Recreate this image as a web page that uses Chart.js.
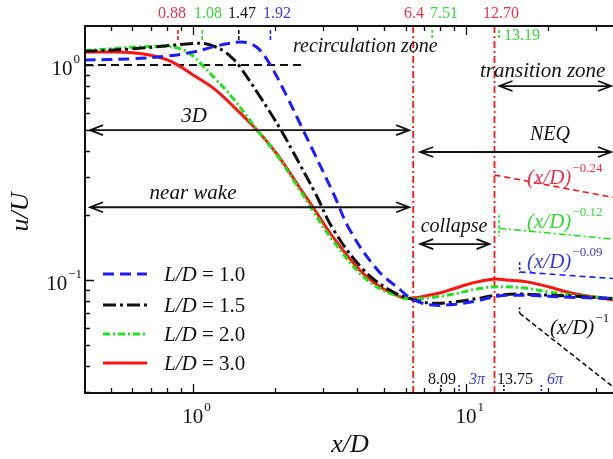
<!DOCTYPE html>
<html>
<head>
<meta charset="utf-8">
<script src="https://cdn.jsdelivr.net/npm/chart.js@4.4.1/dist/chart.umd.min.js"></script>
<style>
  html, body { margin: 0; padding: 0; background: #fff; }
  #wake { display: block; }
</style>
</head>
<body>
<canvas id="wake" width="613" height="459"></canvas>
<script>
// centreline velocity decay u/U against x/D for four aspect ratios

// L/D = 1.0
const x10 = [0.40, 0.6, 0.8, 1.0, 1.2, 1.35, 1.5, 1.62, 1.75, 1.92, 2.2, 2.53, 2.75, 3.26, 3.76, 4.72, 5.74, 6.4, 7.5, 9, 11, 13, 16, 20, 25, 34.5];
const u10 = [1.055, 1.07, 1.10, 1.15, 1.22, 1.26, 1.28, 1.26, 1.18, 1.00, 0.72, 0.498, 0.40, 0.254, 0.17, 0.112, 0.090, 0.081, 0.0765, 0.077, 0.080, 0.084, 0.085, 0.084, 0.083, 0.082];
// L/D = 1.5
const x15 = [0.40, 0.6, 0.8, 1.0, 1.1, 1.2, 1.3, 1.4, 1.47, 1.75, 2.10, 2.31, 2.80, 3.28, 4.20, 5.23, 6.4, 7.5, 9, 11, 13, 16, 20, 25, 34.5];
const u15 = [1.16, 1.19, 1.23, 1.26, 1.26, 1.22, 1.16, 1.07, 1.00, 0.72, 0.498, 0.40, 0.254, 0.17, 0.112, 0.090, 0.081, 0.078, 0.079, 0.082, 0.085, 0.086, 0.085, 0.084, 0.082];
// L/D = 2.0
const x20 = [0.40, 0.5, 0.6, 0.7, 0.8, 0.9, 1.0, 1.08, 1.2, 1.4, 1.715, 2.03, 2.46, 2.75, 3.26, 4.34, 5.74, 6.4, 7.5, 9, 11, 13, 16, 20, 25, 34.5];
const u20 = [1.17, 1.19, 1.21, 1.22, 1.22, 1.19, 1.10, 1.00, 0.87, 0.70, 0.50, 0.38, 0.262, 0.21, 0.152, 0.100, 0.083, 0.082, 0.083, 0.086, 0.091, 0.093, 0.092, 0.088, 0.085, 0.082];
// L/D = 3.0
const x30 = [0.40, 0.5, 0.6, 0.7, 0.8, 0.88, 1.0, 1.18, 1.4, 1.715, 2.03, 2.46, 2.75, 3.26, 4.34, 5.74, 6.4, 7, 8, 9, 10, 11, 12.7, 14, 16.7, 20, 23.4, 28, 34.5];
const u30 = [1.15, 1.15, 1.14, 1.11, 1.06, 1.00, 0.90, 0.785, 0.645, 0.498, 0.385, 0.268, 0.218, 0.158, 0.103, 0.0834, 0.0825, 0.084, 0.087, 0.091, 0.095, 0.098, 0.101, 0.100, 0.098, 0.093, 0.088, 0.084, 0.081];

const ratioLabels = ['1.0', '1.5', '2.0', '3.0'];

// recirculation lengths (top) and zone limits
const recircX = [0.88, 1.08, 1.47, 1.92];
const zoneX = [6.4, 12.70];
const peakX = [7.51, 13.19];
const bottomX = [8.09, 3 * Math.PI, 13.75, 6 * Math.PI];
const bottomText = ['8.09', '3\u03c0', '13.75', '6\u03c0'];

// power-law fits: start x, start u/U, exponent
const lawX0 = [12.7, 13.19, 15.7, 15.7];
const lawU0 = [0.308, 0.174, 0.109, 0.070];
const lawExp = [-0.24, -0.12, -0.09, -1];
const lawText = ['\u22120.24', '\u22120.12', '\u22120.09', '\u22121'];

const X_MIN = 0.402, X_MAX = 34.5;
const Y_MIN = 0.0298, Y_MAX = 1.52;

const BLUE = '#1c1cff', BLACK = '#111111', GREEN = '#1ee41e', RED = '#ff1414';
const RED_TXT = '#f0304a', GREEN_TXT = '#35d835', BLUE_TXT = '#3c3cd8';
const SERIF = '"Liberation Serif", "DejaVu Serif", serif';

const pts = (xs, ys) => xs.map((v, i) => ({ x: v, y: ys[i] }));

const curve = (label, xs, ys, color, dash) => ({
    label: label,
    data: pts(xs, ys),
    borderColor: color,
    borderWidth: 3,
    borderDash: dash,
    pointRadius: 0,
    tension: 0.4,
    fill: false
});

const guide = (data, color, dash, width) => ({
    label: '',
    data: data,
    borderColor: color,
    borderWidth: width,
    borderDash: dash,
    pointRadius: 0,
    fill: false
});

const lawColors = [RED, GREEN, BLUE, BLACK];
const lawDash = [[6, 4], [7, 3, 2, 3], [6, 4], [5, 3]];

const datasets = [
    curve('1.0', x10, u10, BLUE, [11, 6]),
    curve('1.5', x15, u15, BLACK, [13, 4, 3, 4]),
    curve('2.0', x20, u20, GREEN, [7, 3, 2, 3]),
    curve('3.0', x30, u30, RED, [])
];

// u/U = 1 reference
datasets.push(guide([{ x: X_MIN, y: 1 }, { x: 2.53, y: 1 }], BLACK, [8, 5], 2));
// zone boundaries
zoneX.forEach(v => datasets.push(guide([{ x: v, y: Y_MIN }, { x: v, y: Y_MAX }], RED, [7, 3, 2, 3], 1.8)));
// power-law lines
lawX0.forEach((x0, i) => {
    const u1 = lawU0[i] * Math.pow(X_MAX / x0, lawExp[i]);
    datasets.push(guide([{ x: x0, y: lawU0[i] }, { x: X_MAX, y: u1 }], lawColors[i], lawDash[i], 1.6));
});

function txt(ctx, s, x, y, font, color, align) {
    ctx.font = font;
    ctx.fillStyle = color;
    ctx.textAlign = align || 'left';
    ctx.textBaseline = 'alphabetic';
    ctx.fillText(s, x, y);
}

function power(ctx, base, sup, x, y, size, color, italic, align) {
    const f1 = (italic ? 'italic ' : '') + size + 'px ' + SERIF;
    const f2 = Math.round(size * 0.62) + 'px ' + SERIF;
    ctx.font = f1;
    const w1 = ctx.measureText(base).width;
    ctx.font = f2;
    const w2 = ctx.measureText(sup).width;
    let x0 = x;
    if (align === 'right') x0 = x - w1 - w2;
    if (align === 'center') x0 = x - (w1 + w2) / 2;
    txt(ctx, base, x0, y, f1, color);
    txt(ctx, sup, x0 + w1 + 1, y - size * 0.55, f2, color);
}

function arrow(ctx, x1, x2, y) {
    ctx.save();
    ctx.strokeStyle = BLACK;
    ctx.lineWidth = 1.8;
    ctx.setLineDash([]);
    ctx.beginPath();
    ctx.moveTo(x1, y); ctx.lineTo(x2, y);
    ctx.moveTo(x1 + 13, y - 5); ctx.lineTo(x1, y); ctx.lineTo(x1 + 13, y + 5);
    ctx.moveTo(x2 - 13, y - 5); ctx.lineTo(x2, y); ctx.lineTo(x2 - 13, y + 5);
    ctx.stroke();
    ctx.restore();
}

function vmark(ctx, x, y1, y2, color, dash, width) {
    ctx.save();
    ctx.strokeStyle = color;
    ctx.lineWidth = width || 1.6;
    ctx.setLineDash(dash || []);
    ctx.beginPath();
    ctx.moveTo(x, y1); ctx.lineTo(x, y2);
    ctx.stroke();
    ctx.restore();
}

const wakeDecor = {
    id: 'wakeDecor',
    afterDatasetsDraw(chart) {
        const { ctx, chartArea: a, scales: { x, y } } = chart;
        const it = s => 'italic ' + s + 'px ' + SERIF;
        const px = v => x.getPixelForValue(v);
        const py = v => y.getPixelForValue(v);

        // colored markers under the top spine
        const recColors = [RED, GREEN, BLACK, BLUE];
        recircX.forEach((v, i) => vmark(ctx, px(v), a.top + 4, a.top + 15, recColors[i], [4, 2]));
        peakX.forEach(v => vmark(ctx, px(v), a.top + 4, a.top + 13, GREEN, [3, 2]));

        // markers on the bottom spine
        const botColors = [BLACK, BLUE, BLACK, BLUE];
        bottomX.forEach((v, i) => vmark(ctx, px(v), a.bottom - 8, a.bottom - 1, botColors[i], [2, 2]));

        // start markers of the power-law fits
        vmark(ctx, px(lawX0[1]), py(lawU0[1]) - 13, py(lawU0[1]) + 8, GREEN, [3, 2]);
        vmark(ctx, px(lawX0[2]), py(lawU0[2]) - 10, py(lawU0[2]) + 1, BLUE, [3, 2]);
        vmark(ctx, px(lawX0[3]), py(lawU0[3]) - 6, py(lawU0[3]) + 2, BLACK, [2, 2]);

        // zone arrows
        const x64 = px(zoneX[0]), x127 = px(zoneX[1]);
        arrow(ctx, a.left + 5, x64 - 4, py(0.498));
        arrow(ctx, a.left + 5, x64 - 4, py(0.218));
        arrow(ctx, x64 + 7, a.right - 2, py(0.394));
        arrow(ctx, x127 + 5, a.right - 2, py(0.799));
        arrow(ctx, x64 + 7, x127 - 5, py(0.147));

        txt(ctx, 'recirculation zone', 293, 52, it(20), BLACK);
        txt(ctx, '3D', 194, 122, it(21), BLACK, 'center');
        txt(ctx, 'near wake', 193, 199, it(21), BLACK, 'center');
        txt(ctx, 'NEQ', 550, 140, it(20), BLACK, 'center');
        txt(ctx, 'transition zone', 480, 77, it(21), BLACK);
        txt(ctx, 'collapse', 454, 232, it(20), BLACK, 'center');

        // power-law labels
        const lawTxt = [RED_TXT, GREEN_TXT, BLUE_TXT, BLACK];
        const lawPos = [[527, 184], [527, 228], [527, 268], [550, 334]];
        lawPos.forEach((p, i) => power(ctx, '(x/D)', lawText[i], p[0], p[1], 21, lawTxt[i], true));

        // values along the top
        const f16 = '16px ' + SERIF;
        const topText = ['0.88', '1.08', '1.47', '1.92'];
        const topCol = [RED_TXT, GREEN_TXT, BLACK, BLUE_TXT];
        const topPos = [172, 208, 242, 277];
        topText.forEach((s, i) => txt(ctx, s, topPos[i], 18, f16, topCol[i], 'center'));
        txt(ctx, '6.4', 414, 18, f16, RED_TXT, 'center');
        txt(ctx, '7.51', 444, 18, f16, GREEN_TXT, 'center');
        txt(ctx, '12.70', 501, 18, f16, RED_TXT, 'center');
        txt(ctx, '13.19', 522, 40, f16, GREEN_TXT, 'center');

        // values along the bottom
        const botPos = [442, 477, 515, 555];
        const botFont = ['16px ', 'italic 16px ', '16px ', 'italic 16px '];
        const botTxt = [BLACK, BLUE_TXT, BLACK, BLUE_TXT];
        bottomText.forEach((s, i) => txt(ctx, s, botPos[i], 384, botFont[i] + SERIF, botTxt[i], 'center'));
    },
    afterDraw(chart) {
        const { ctx, chartArea: a, scales: { x, y } } = chart;
        ctx.save();
        ctx.strokeStyle = BLACK;
        ctx.setLineDash([]);

        // log ticks, pointing inward
        ctx.lineWidth = 1.3;
        ctx.beginPath();
        for (let e = -2; e <= 1; e++) {
            for (let m = 1; m <= 9; m++) {
                const v = m * Math.pow(10, e);
                const len = m === 1 ? 9 : 5;
                if (v >= X_MIN && v <= X_MAX) {
                    const p = Math.round(x.getPixelForValue(v)) + 0.5;
                    ctx.moveTo(p, a.bottom); ctx.lineTo(p, a.bottom - len);
                    ctx.moveTo(p, a.top); ctx.lineTo(p, a.top + len);
                }
                if (v >= Y_MIN && v <= Y_MAX) {
                    const p = Math.round(y.getPixelForValue(v)) + 0.5;
                    ctx.moveTo(a.left, p); ctx.lineTo(a.left + len, p);
                }
            }
        }
        ctx.stroke();

        // spines
        ctx.lineWidth = 2;
        ctx.beginPath();
        ctx.moveTo(a.right, a.top); ctx.lineTo(a.left, a.top);
        ctx.lineTo(a.left, a.bottom); ctx.lineTo(a.right, a.bottom);
        ctx.stroke();
        ctx.restore();

        // tick labels
        power(ctx, '10', '0', 79, 75, 21, BLACK, false, 'right');
        power(ctx, '10', '\u22121', 81, 290, 21, BLACK, false, 'right');
        power(ctx, '10', '0', x.getPixelForValue(1) + 3, 423, 21, BLACK, false, 'center');
        power(ctx, '10', '1', x.getPixelForValue(10) + 3, 423, 21, BLACK, false, 'center');

        // axis titles
        txt(ctx, 'x/D', 350, 452, 'italic 26px ' + SERIF, BLACK, 'center');
        ctx.save();
        ctx.translate(28, 212);
        ctx.rotate(-Math.PI / 2);
        txt(ctx, 'u/U', 0, 0, 'italic 26px ' + SERIF, BLACK, 'center');
        ctx.restore();

        // legend
        const rows = [274, 305, 334, 363];
        chart.data.datasets.slice(0, 4).forEach((ds, i) => {
            const yy = rows[i];
            ctx.save();
            ctx.strokeStyle = ds.borderColor;
            ctx.lineWidth = 3;
            ctx.setLineDash(ds.borderDash);
            ctx.beginPath();
            ctx.moveTo(103, yy); ctx.lineTo(147, yy);
            ctx.stroke();
            ctx.restore();
            ctx.font = 'italic 21px ' + SERIF;
            const w = ctx.measureText('L/D').width;
            txt(ctx, 'L/D', 164, yy + 7, 'italic 21px ' + SERIF, BLACK);
            txt(ctx, ' = ' + ratioLabels[i], 164 + w, yy + 7, '21px ' + SERIF, BLACK);
        });
    }
};

new Chart(document.getElementById('wake'), {
    type: 'line',
    data: { datasets: datasets },
    options: {
        responsive: false,
        animation: false,
        devicePixelRatio: 1,
        layout: { padding: { left: 85, top: 26, right: 0, bottom: 66 } },
        plugins: { legend: { display: false }, tooltip: { enabled: false } },
        scales: {
            x: { type: 'logarithmic', min: X_MIN, max: X_MAX, display: false },
            y: { type: 'logarithmic', min: Y_MIN, max: Y_MAX, display: false }
        }
    },
    plugins: [wakeDecor]
});
</script>
</body>
</html>
